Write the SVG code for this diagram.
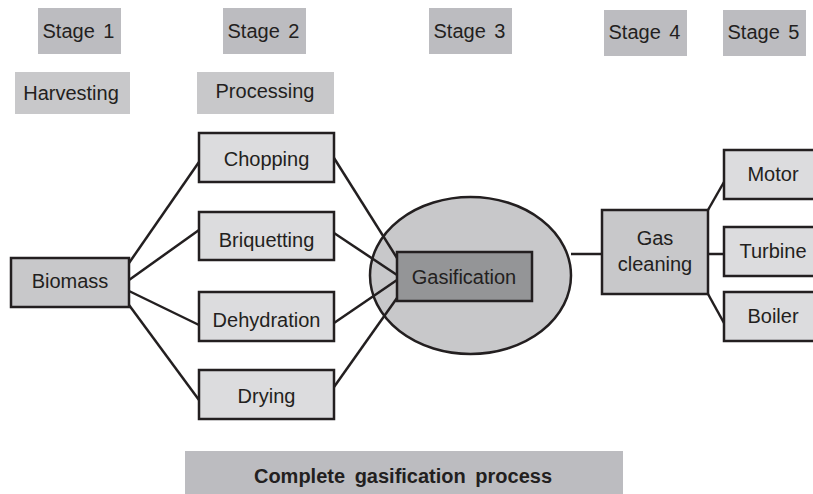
<svg xmlns="http://www.w3.org/2000/svg" width="813" height="494" viewBox="0 0 813 494">
<style>
text{font-family:"Liberation Sans",Arial,sans-serif;font-size:20px;fill:#231f20;text-anchor:middle}
.hdr{fill:#bcbcc0;stroke:none}
.lbl{fill:#c8c8ca;stroke:none}
.box{fill:#dcdcde;stroke:#231f20;stroke-width:2.5}
.mid{fill:#c8c8ca;stroke:#231f20;stroke-width:2.5}
.dark{fill:#949597;stroke:#231f20;stroke-width:2.5}
#connectors line{stroke:#231f20;stroke-width:2.5}
</style>
<rect width="813" height="494" fill="#ffffff"/>
<g id="stage1"><rect class="hdr" x="38" y="8" width="83" height="46"/><text x="78.5" y="38" word-spacing="3">Stage 1</text></g>
<g id="stage2"><rect class="hdr" x="223" y="8" width="83" height="46"/><text x="263.5" y="38" word-spacing="3">Stage 2</text></g>
<g id="stage3"><rect class="hdr" x="429" y="8" width="83" height="46"/><text x="469.5" y="38" word-spacing="3">Stage 3</text></g>
<g id="stage4"><rect class="hdr" x="604" y="10" width="83" height="46"/><text x="644.5" y="39" word-spacing="3">Stage 4</text></g>
<g id="stage5"><rect class="hdr" x="723" y="10" width="83" height="46"/><text x="763.5" y="39" word-spacing="3">Stage 5</text></g>
<g id="harvesting"><rect class="lbl" x="15" y="72" width="115" height="42"/><text x="71" y="100">Harvesting</text></g>
<g id="processing"><rect class="lbl" x="197" y="72" width="137" height="42"/><text x="265" y="98">Processing</text></g>
<g id="gasifier"><ellipse class="mid" cx="470.5" cy="275.5" rx="100.5" ry="78.5"/></g>
<g id="connectors">
<line x1="129" y1="263" x2="199" y2="162"/>
<line x1="129" y1="280" x2="199" y2="230"/>
<line x1="129" y1="291" x2="199" y2="325"/>
<line x1="129" y1="305" x2="199" y2="400"/>
<line x1="334" y1="158" x2="397" y2="258"/>
<line x1="334" y1="233" x2="397" y2="275"/>
<line x1="334" y1="323" x2="397" y2="280"/>
<line x1="334" y1="387" x2="397" y2="298"/>
<line x1="571" y1="254" x2="602" y2="254"/>
<line x1="708" y1="210" x2="724" y2="182"/>
<line x1="708" y1="254" x2="724" y2="254"/>
<line x1="708" y1="294" x2="724" y2="323"/>
</g>
<g id="biomass"><rect class="mid" x="11" y="258" width="118" height="49"/><text x="70" y="288">Biomass</text></g>
<g id="chopping"><rect class="box" x="199" y="133" width="135" height="49"/><text x="266.5" y="166">Chopping</text></g>
<g id="briquetting"><rect class="box" x="199" y="212" width="135" height="48"/><text x="266.5" y="247">Briquetting</text></g>
<g id="dehydration"><rect class="box" x="199" y="292" width="135" height="49"/><text x="266.5" y="327">Dehydration</text></g>
<g id="drying"><rect class="box" x="199" y="370" width="135" height="49"/><text x="266.5" y="403">Drying</text></g>
<g id="gasification"><rect class="dark" x="397" y="252" width="135" height="49"/><text x="464" y="284">Gasification</text></g>
<g id="gascleaning"><rect class="mid" x="602" y="210" width="106" height="84"/><text x="655" y="245">Gas</text><text x="655" y="271">cleaning</text></g>
<g id="motor"><rect class="box" x="724" y="150" width="92" height="49"/><text x="773" y="181">Motor</text></g>
<g id="turbine"><rect class="box" x="724" y="227" width="92" height="49"/><text x="773" y="258">Turbine</text></g>
<g id="boiler"><rect class="box" x="724" y="292" width="92" height="49"/><text x="773" y="323">Boiler</text></g>
<g id="footer"><rect class="hdr" x="185" y="451" width="438" height="45"/><text x="403" y="483" font-weight="bold" word-spacing="4">Complete gasification process</text></g>
</svg>
